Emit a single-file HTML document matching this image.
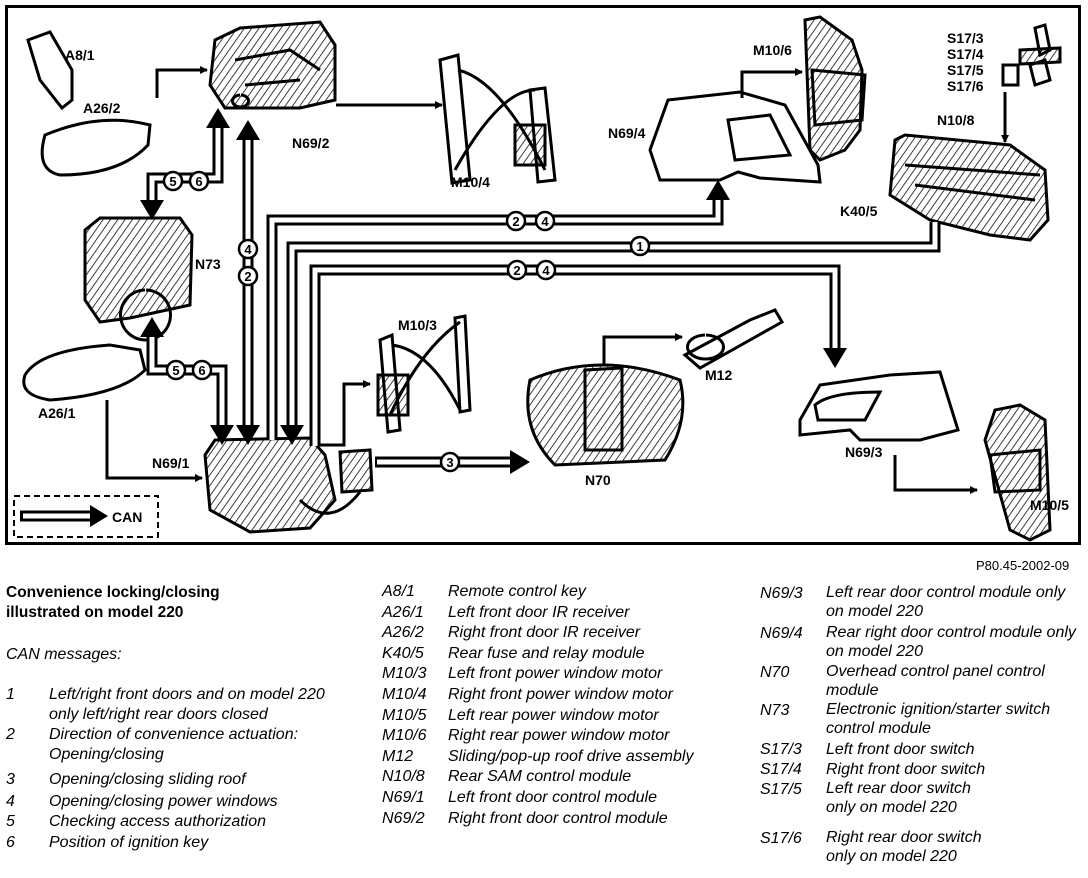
<!DOCTYPE html>
<html><head><meta charset="utf-8"><style>
body{margin:0;background:#fff;width:1088px;height:878px;position:relative;overflow:hidden;font-family:"Liberation Sans",sans-serif;}
svg{position:absolute;left:0;top:0}
.t{position:absolute;font-size:16px;font-style:italic;white-space:nowrap;line-height:20px}
.b{font-style:normal;font-weight:bold;font-size:15.5px}
</style></head><body>
<svg width="1088" height="548" viewBox="0 0 1088 548">
<defs>
<marker id="a" markerWidth="8" markerHeight="8" refX="7" refY="4" orient="auto" markerUnits="userSpaceOnUse"><path d="M0,0 L8,4 L0,8z" fill="#000"/></marker>
<pattern id="h" width="6" height="6" patternUnits="userSpaceOnUse" patternTransform="rotate(35)"><rect width="6" height="6" fill="#fff"/><line x1="0" y1="0" x2="0" y2="6" stroke="#000" stroke-width="1.5"/></pattern>
</defs>
<rect x="6.5" y="6.5" width="1073" height="537" fill="none" stroke="#000" stroke-width="3"/>
<g fill="url(#h)" stroke="#000" stroke-width="3">
<path d="M215,40 L240,28 L320,22 L335,45 L335,100 L300,108 L225,108 L210,85 Z"/>
<path d="M805,20 L820,17 L852,40 L862,70 L860,130 L845,150 L820,160 L810,150 Z"/>
<path d="M895,140 L905,135 L1010,145 L1045,170 L1048,220 L1030,240 L990,235 L930,220 L890,195 Z"/>
<path d="M85,230 L100,218 L180,218 L192,235 L190,305 L130,318 L100,322 L85,300 Z"/>
<path d="M205,455 L215,440 L310,438 L325,455 L335,500 L310,528 L250,532 L210,510 Z"/>
<path d="M530,380 Q600,350 680,380 Q690,420 665,460 L555,465 Q520,430 530,380 Z"/>
<path d="M985,440 L995,410 L1020,405 L1045,420 L1050,530 L1030,540 L1010,530 Z"/>
<rect x="515" y="125" width="30" height="40"/>
<rect x="378" y="375" width="30" height="40"/>
<path d="M340,452 L370,450 L372,490 L342,492 Z"/>
<path d="M1020,50 L1060,48 L1060,62 L1020,64 Z"/>
</g>
<g fill="none" stroke="#000" stroke-width="3">
<path d="M235,60 L290,50 L320,70 M245,85 L300,80 M240,95 a8,6 0 1,0 1,0"/>
<path d="M440,60 L458,55 L470,180 L452,183 Z M530,90 L545,88 L555,180 L538,182 Z M458,70 Q500,80 545,170 M455,170 Q500,90 535,90"/>
<path d="M650,150 L668,100 L740,92 L785,105 L818,165 L820,182 L760,178 L738,172 L720,180 L660,180 Z"/>
<path d="M728,120 L770,115 L790,155 L735,160 Z"/>
<path d="M812,70 L865,75 L862,120 L815,125 Z"/>
<path d="M1035,28 L1045,25 L1050,50 L1040,55 Z M1003,65 L1018,65 L1018,85 L1003,85 Z M1030,65 L1045,60 L1050,80 L1035,85 Z"/>
<path d="M905,165 L1040,175 M915,185 L1035,200"/>
<path d="M28,40 L50,32 L72,70 L72,100 L62,108 L40,80 Z"/>
<path d="M45,135 Q100,112 150,125 L148,145 Q120,175 60,175 Q35,170 45,135 Z"/>
<path d="M145,290 a25,25 0 1,0 1,0"/>
<path d="M25,375 Q40,350 110,345 L140,350 L145,370 Q120,395 50,400 Q18,395 25,375 Z"/>
<path d="M380,340 L392,335 L400,430 L388,432 Z M455,318 L465,316 L470,410 L460,412 Z M392,345 Q430,350 460,410 M390,415 Q420,350 460,322"/>
<path d="M300,500 Q330,530 360,492"/>
<path d="M585,370 L622,368 L622,450 L585,450 Z"/>
<path d="M685,355 L750,320 L775,310 L782,322 L700,368 Z M705,335 a18,12 0 1,0 1,0"/>
<path d="M800,420 L820,385 L890,375 L940,372 L958,430 L920,440 L860,440 L850,430 L800,435 Z M815,405 Q830,392 880,392 L865,420 L818,420 Z"/>
<path d="M990,455 L1040,450 L1040,490 L995,492 Z"/>
</g>
<g fill="none" stroke="#000" stroke-width="3" marker-end="url(#a)">
<path d="M157,98 L157,70 L207,70"/>
<path d="M336,105 L442,105"/>
<path d="M742,98 L742,72 L802,72"/>
<path d="M1005,92 L1005,142"/>
<path d="M107,400 L107,478 L202,478"/>
<path d="M318,445 L344,445 L344,384 L370,384"/>
<path d="M604,365 L604,337 L682,337"/>
<path d="M895,455 L895,490 L977,490"/>
</g>
<g fill="none" stroke-linejoin="miter">
<g stroke="#000" stroke-width="11">
<path d="M152,205 L152,178 L218,178 L218,124"/>
<path d="M152,332 L152,370 L222,370 L222,428"/>
<path d="M248,136 L248,428"/>
<path d="M272,440 L272,220 L718,220 L718,198"/>
<path d="M292,428 L292,247 L935,247 L935,222"/>
<path d="M315,446 L315,270 L835,270 L835,352"/>
<path d="M375,462 L512,462"/>
<path d="M20,516 L92,516"/>
</g>
<g stroke="#fff" stroke-width="5">
<path d="M152,205 L152,178 L218,178 L218,124"/>
<path d="M152,332 L152,370 L222,370 L222,428"/>
<path d="M248,136 L248,428"/>
<path d="M272,440 L272,220 L718,220 L718,198"/>
<path d="M292,428 L292,247 L935,247 L935,222"/>
<path d="M315,446 L315,270 L835,270 L835,352"/>
<path d="M377,462 L512,462"/>
<path d="M23,516 L92,516"/>
</g>
</g>
<g fill="#000">
<path d="M140,200 L164,200 L152,220z"/>
<path d="M140,337 L164,337 L152,317z"/>
<path d="M206,128 L230,128 L218,108z"/>
<path d="M210,425 L234,425 L222,445z"/>
<path d="M236,140 L260,140 L248,120z"/>
<path d="M236,425 L260,425 L248,445z"/>
<path d="M280,425 L304,425 L292,445z"/>
<path d="M706,200 L730,200 L718,180z"/>
<path d="M823,348 L847,348 L835,368z"/>
<path d="M510,450 L510,474 L530,462z"/>
<path d="M90,505 L90,527 L108,516z"/>
</g>
<rect x="14" y="496" width="144" height="41" fill="none" stroke="#000" stroke-width="2" stroke-dasharray="6,4"/>
<g stroke="#000" stroke-width="2.5" fill="#fff">
<circle cx="173" cy="181" r="9"/><circle cx="199" cy="181" r="9"/>
<circle cx="176" cy="370" r="9"/><circle cx="202" cy="370" r="9"/>
<circle cx="248" cy="249" r="9"/><circle cx="248" cy="276" r="9"/>
<circle cx="516" cy="221" r="9"/><circle cx="545" cy="221" r="9"/>
<circle cx="640" cy="246" r="9"/>
<circle cx="517" cy="270" r="9"/><circle cx="546" cy="270" r="9"/>
<circle cx="450" cy="462" r="9"/>
</g>
<g font-family="Liberation Sans" font-weight="bold" font-size="13" text-anchor="middle">
<text x="173" y="186">5</text><text x="199" y="186">6</text>
<text x="176" y="375">5</text><text x="202" y="375">6</text>
<text x="248" y="254">4</text><text x="248" y="281">2</text>
<text x="516" y="226">2</text><text x="545" y="226">4</text>
<text x="640" y="251">1</text>
<text x="517" y="275">2</text><text x="546" y="275">4</text>
<text x="450" y="467">3</text>
</g>
<g font-family="Liberation Sans" font-weight="bold" font-size="14">
<text x="112" y="522">CAN</text>
<text x="65" y="60">A8/1</text>
<text x="83" y="113">A26/2</text>
<text x="292" y="148">N69/2</text>
<text x="451" y="187">M10/4</text>
<text x="753" y="55">M10/6</text>
<text x="608" y="138">N69/4</text>
<text x="947" y="43">S17/3</text><text x="947" y="59">S17/4</text><text x="947" y="75">S17/5</text><text x="947" y="91">S17/6</text>
<text x="937" y="125">N10/8</text>
<text x="840" y="216">K40/5</text>
<text x="195" y="269">N73</text>
<text x="398" y="330">M10/3</text>
<text x="38" y="418">A26/1</text>
<text x="152" y="468">N69/1</text>
<text x="705" y="380">M12</text>
<text x="585" y="485">N70</text>
<text x="845" y="457">N69/3</text>
<text x="1030" y="510">M10/5</text>
</g>
</svg>
<div class="t" style="left:976px;top:556px;font-style:normal;font-size:13px">P80.45-2002-09</div>
<div class="t b" style="left:6px;top:583px">Convenience locking/closing</div>
<div class="t b" style="left:6px;top:603px">illustrated on model 220</div>
<div class="t" style="left:6px;top:645px">CAN messages:</div>
<div class="t" style="left:6px;top:685px">1</div><div class="t" style="left:49px;top:685px">Left/right front doors and on model 220<br>only left/right rear doors closed</div>
<div class="t" style="left:6px;top:725px">2</div><div class="t" style="left:49px;top:725px">Direction of convenience actuation:<br>Opening/closing</div>
<div class="t" style="left:6px;top:770px">3</div><div class="t" style="left:49px;top:770px">Opening/closing sliding roof</div>
<div class="t" style="left:6px;top:792px">4</div><div class="t" style="left:49px;top:792px">Opening/closing power windows</div>
<div class="t" style="left:6px;top:812px">5</div><div class="t" style="left:49px;top:812px">Checking access authorization</div>
<div class="t" style="left:6px;top:833px">6</div><div class="t" style="left:49px;top:833px">Position of ignition key</div>
<div class="t" style="left:382px;top:582px;line-height:20.6px">A8/1<br>A26/1<br>A26/2<br>K40/5<br>M10/3<br>M10/4<br>M10/5<br>M10/6<br>M12<br>N10/8<br>N69/1<br>N69/2</div>
<div class="t" style="left:448px;top:582px;line-height:20.6px">Remote control key<br>Left front door IR receiver<br>Right front door IR receiver<br>Rear fuse and relay module<br>Left front power window motor<br>Right front power window motor<br>Left rear power window motor<br>Right rear power window motor<br>Sliding/pop-up roof drive assembly<br>Rear SAM control module<br>Left front door control module<br>Right front door control module</div>
<div class="t" style="left:760px;top:584px">N69/3</div><div class="t" style="left:826px;top:584px;line-height:18.5px">Left rear door control module only<br>on model 220</div>
<div class="t" style="left:760px;top:624px">N69/4</div><div class="t" style="left:826px;top:624px;line-height:18.5px">Rear right door control module only<br>on model 220</div>
<div class="t" style="left:760px;top:663px">N70</div><div class="t" style="left:826px;top:663px;line-height:18.5px">Overhead control panel control<br>module</div>
<div class="t" style="left:760px;top:701px">N73</div><div class="t" style="left:826px;top:701px;line-height:18.5px">Electronic ignition/starter switch<br>control module</div>
<div class="t" style="left:760px;top:740px">S17/3</div><div class="t" style="left:826px;top:740px">Left front door switch</div>
<div class="t" style="left:760px;top:760px">S17/4</div><div class="t" style="left:826px;top:760px">Right front door switch</div>
<div class="t" style="left:760px;top:780px">S17/5</div><div class="t" style="left:826px;top:780px;line-height:18.5px">Left rear door switch<br>only on model 220</div>
<div class="t" style="left:760px;top:829px">S17/6</div><div class="t" style="left:826px;top:829px;line-height:18.5px">Right rear door switch<br>only on model 220</div>
</body></html>
